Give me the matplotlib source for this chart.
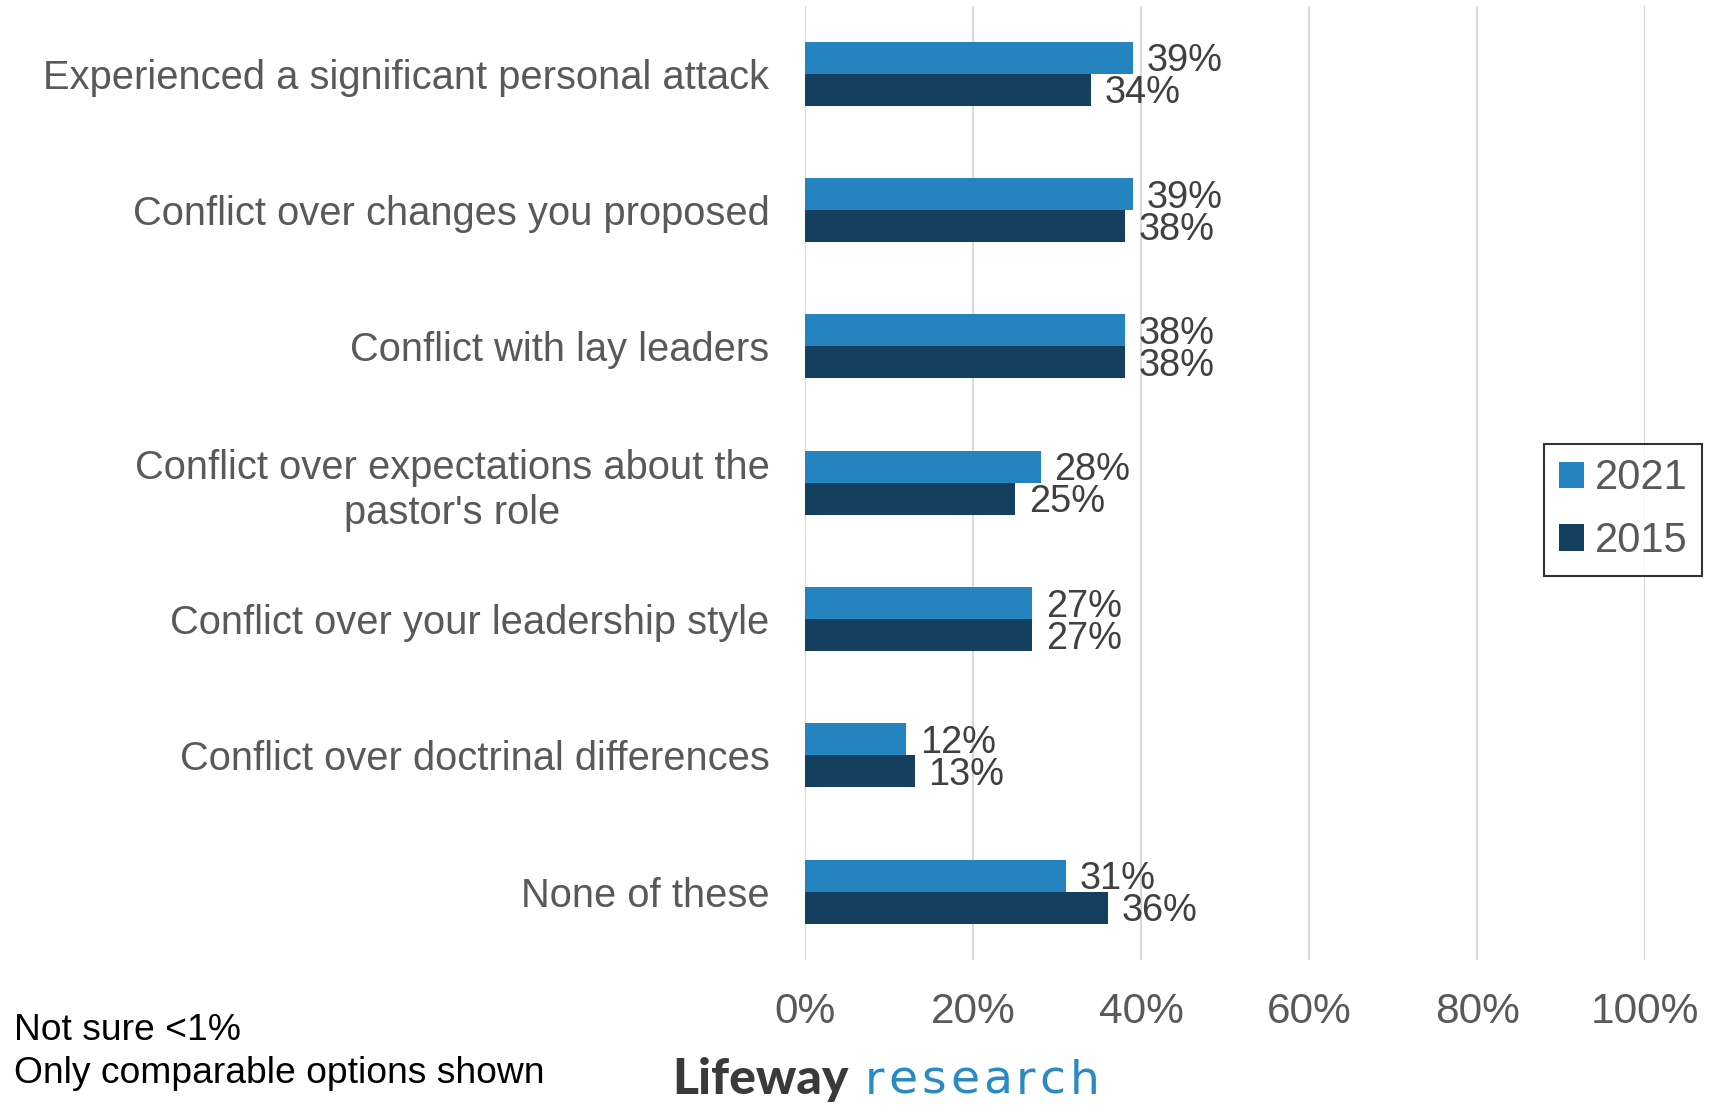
import numpy as np
import matplotlib.pyplot as plt

categories = [
    "Experienced a significant personal attack",
    "Conflict over changes you proposed",
    "Conflict with lay leaders",
    "Conflict over expectations about the\npastor's role",
    "Conflict over your leadership style",
    "Conflict over doctrinal differences",
    "None of these",
]
vals_2021 = [39, 39, 38, 28, 27, 12, 31]
vals_2015 = [34, 38, 38, 25, 27, 13, 36]
series_names = ["2021", "2015"]
ticks = [0, 20, 40, 60, 80, 100]

c2021 = "#2584BF"
c2015 = "#153F5E"
grey = "#595959"

plt.rcParams['font.family'] = ['Liberation Sans', 'DejaVu Sans']

fig = plt.figure(figsize=(17.16, 11.11), dpi=100)
ax = fig.add_axes([0.4694, 0.136, 0.4893, 0.859])

y = np.arange(len(categories))
h = 0.235
b1 = ax.barh(y - h / 2, vals_2021, height=h, color=c2021, label=series_names[0], zorder=3)
b2 = ax.barh(y + h / 2, vals_2015, height=h, color=c2015, label=series_names[1], zorder=3)

for bars, vals in [(b1, vals_2021), (b2, vals_2015)]:
    for rect, v in zip(bars, vals):
        ax.annotate(f"{v}%", (rect.get_width(), rect.get_y() + rect.get_height() / 2),
                    xytext=(10, -2.5), textcoords="offset points", va="center", ha="left",
                    fontsize=27.4, color="#404040")

ax.set_xlim(0, 100)
ax.set_ylim(len(categories) - 0.5, -0.5)
ax.set_xticks(ticks)
ax.set_xticklabels([f"{t}%" for t in ticks], fontsize=30.5, color=grey)
ax.set_yticks(y)
ax.set_yticklabels(categories, fontsize=28.7, color=grey, multialignment="center",
                   linespacing=1.25)
ax.tick_params(axis="both", length=0)
ax.tick_params(axis="x", pad=23)
ax.tick_params(axis="y", pad=26)
ax.grid(axis="x", color="#D9D9D9", linewidth=1.5, zorder=0)
for s in ax.spines.values():
    s.set_visible(False)

handles, labels = ax.get_legend_handles_labels()
leg = fig.legend(handles, labels, loc="center left", bbox_to_anchor=(0.9, 0.541), fontsize=30,
                 frameon=True, fancybox=False, edgecolor="black", handlelength=0.6,
                 handleheight=0.6, handletextpad=0.25, borderpad=0.35, labelspacing=0.55,
                 borderaxespad=0)
leg.get_frame().set_linewidth(1.5)
for t in leg.get_texts():
    t.set_color(grey)

fig.text(0.008, 0.053, "Not sure <1%\nOnly comparable options shown", fontsize=26.8,
         color="black", va="center", ha="left", linespacing=1.3)

# logo: bold "Lifeway" then letter-spaced "research"
fig.text(0.392, 0.0155, "Lifeway", fontsize=36, fontweight="black", family="Lato",
         color="#3A3A3A", va="baseline", ha="left")
renderer = fig.canvas.get_renderer()
x0 = 0.504 * fig.bbox.width
for ch in "research":
    t = fig.text(x0 / fig.bbox.width, 0.0155, ch, fontsize=34, family="DejaVu Sans",
                 color="#2A8AC4", va="baseline", ha="left")
    x0 += t.get_window_extent(renderer).width + 4

fig.savefig("out.png", dpi=100)
